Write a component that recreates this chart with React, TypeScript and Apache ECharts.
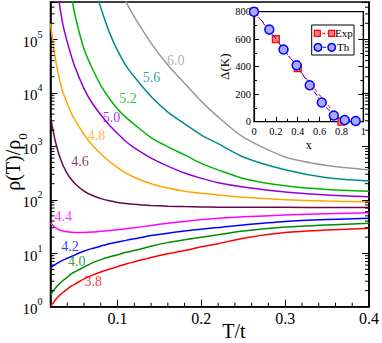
import { useEffect, useRef } from "react";
import * as echarts from "echarts";

const FONT = "Liberation Serif, Times New Roman, serif";

// temperature grid (T/t)
const T = [0.02, 0.025, 0.03, 0.035, 0.04, 0.045, 0.05, 0.06, 0.07, 0.08, 0.09, 0.1, 0.11, 0.12, 0.14, 0.16, 0.18, 0.2, 0.22, 0.25, 0.3, 0.35, 0.4];

// rho(T)/rho0 for each curve
const rho38 = [1.0, 1.29, 1.58, 1.86, 2.14, 2.44, 2.69, 3.31, 3.89, 4.47, 5.01, 5.62, 6.31, 6.92, 8.32, 9.77, 11.2, 13.2, 15.1, 19.1, 24.3, 27.2, 29.2];
const rho40 = [1.66, 2.14, 2.63, 3.09, 3.55, 4.17, 4.57, 5.5, 6.61, 7.59, 8.51, 9.33, 10.4, 11.2, 13.5, 15.8, 17.8, 20.0, 22.1, 26.0, 30.9, 33.9, 36.2];
const rho42 = [5.31, 6.03, 6.76, 7.41, 8.04, 8.71, 9.44, 11.0, 12.3, 13.6, 15.0, 16.2, 17.4, 18.6, 21.4, 23.7, 26.0, 28.2, 30.2, 33.9, 39.4, 42.7, 44.9];
const rho44 = [37.2, 30.9, 27.5, 26.0, 25.1, 24.7, 24.5, 24.5, 24.9, 25.7, 26.6, 27.5, 28.8, 29.9, 33.1, 36.3, 39.4, 42.7, 44.9, 47.9, 51.9, 55.0, 57.1];
const rho46 = [3550, 1410, 708, 437, 309, 240, 195, 145, 120, 105, 95.5, 89.1, 85.1, 82.2, 78.5, 75.9, 74.5, 73.5, 72.8, 72.4, 72.1, 71.8, 71.6];
const rho48 = [200000, 51300, 20000, 10000, 6310, 4070, 2950, 1660, 1050, 724, 525, 398, 316, 263, 200, 166, 145, 132, 123, 111, 100, 94.4, 91.8];
const rho50 = [null, 2000000, 537000, 182000, 89100, 47900, 28200, 12000, 6310, 3890, 2510, 1740, 1230, 933, 603, 427, 316, 251, 209, 174, 140, 123, 114];
const rho52 = [null, null, null, null, 1580000, 631000, 251000, 66100, 28200, 13800, 7940, 5010, 3470, 2570, 1450, 977, 692, 479, 363, 251, 182, 155, 144];
const rho56 = [null, null, null, null, null, null, null, null, 1260000, 389000, 138000, 61700, 32400, 20000, 8510, 4370, 2630, 1620, 1120, 631, 363, 257, 224];
const rho60 = [null, null, null, null, null, null, null, null, null, null, null, 1000000, 501000, 263000, 85100, 33100, 15100, 6920, 3550, 1480, 631, 437, 363];

const curveNames = ["3.8", "4.0", "4.2", "4.4", "4.6", "4.8", "5.0", "5.2", "5.6", "6.0"];
const curveColors = ["#ff0000", "#008b00", "#0000ff", "#ff00ff", "#670748", "#ffa500", "#9400d3", "#00b400", "#008b8b", "#999999"];
const curveValues = [rho38, rho40, rho42, rho44, rho46, rho48, rho50, rho52, rho56, rho60];

// curve label anchors (data coordinates)
const labelT = [0.0709, 0.0512, 0.0432, 0.0352, 0.0551, 0.075, 0.0928, 0.1126, 0.1405, 0.1694];
const labelRho = [2.93, 6.92, 13.2, 47.9, 525, 1620, 3470, 7850, 19500, 40700];

// inset: gap Delta(K) vs x
const expX = [0, 0.2, 0.4, 0.8];
const expGap = [800, 600, 390, 0];
const thX = [0, 0.14, 0.27, 0.39, 0.51, 0.62, 0.73, 0.83, 0.93];
const thGap = [800, 670, 525, 410, 265, 140, 45, 12, 5];

// axis settings
const X_MIN = 0.02;
const X_MAX = 0.4;
const Y_MIN = 1;
const Y_MAX = 500000;
const xMinorTicks = [0.04, 0.06, 0.08, 0.12, 0.14, 0.16, 0.18, 0.22, 0.24, 0.26, 0.28, 0.32, 0.34, 0.36, 0.38];

export default function App() {
  const ref = useRef<HTMLDivElement>(null);

  useEffect(() => {
    if (!ref.current) return;
    const chart = echarts.init(ref.current, undefined, { renderer: "svg" });

    const yMinor: number[] = [];
    for (let k = 0; k <= 5; k++) {
      for (let m = 2; m <= 9; m++) {
        const v = m * Math.pow(10, k);
        if (v < Y_MAX) yMinor.push(v);
      }
    }
    const tickData: number[][] = [
      ...yMinor.map((v) => [X_MIN, v, 0]),
      ...xMinorTicks.map((x) => [x, Y_MIN, 1]),
    ];

    const lineSeries = curveValues.map((vals, i) => ({
      type: "line",
      name: curveNames[i],
      xAxisIndex: 0,
      yAxisIndex: 0,
      data: T.map((t, j) => [t, vals[j]]).filter((p) => p[1] !== null),
      symbol: "none",
      smooth: 0.25,
      clip: true,
      lineStyle: { color: curveColors[i], width: 1.5 },
      z: 3,
    }));

    const axisText = { fontFamily: FONT, color: "#000" };
    const thFill = "#aaaaff";
    const expFill = "#ff8080";

    const option: any = {
      animation: false,
      backgroundColor: "#fff",
      grid: [
        { left: 50.5, top: 2, right: 12, bottom: 36.3, show: true, borderColor: "#000", borderWidth: 1.5, backgroundColor: "transparent" },
        { left: 254, top: 11.7, width: 109.3, height: 110, show: true, borderColor: "#000", borderWidth: 1.2, backgroundColor: "#fff" },
      ],
      xAxis: [
        {
          type: "value", gridIndex: 0, min: X_MIN, max: X_MAX, splitNumber: 4,
          axisLine: { show: true, lineStyle: { color: "#000", width: 1.5 } },
          axisTick: { show: true, inside: true, length: 7, lineStyle: { color: "#000", width: 1 } },
          splitLine: { show: false },
          axisLabel: {
            ...axisText, fontSize: 16, margin: 4,
            formatter: (v: number) => (v > 0.05 && Math.abs(v * 10 - Math.round(v * 10)) < 1e-6 ? v.toFixed(1) : ""),
          },
        },
        {
          type: "value", gridIndex: 1, min: 0, max: 1, interval: 0.2,
          axisLine: { show: true, lineStyle: { color: "#000", width: 1.2 } },
          axisTick: { show: true, inside: true, length: 5, lineStyle: { color: "#000" } },
          minorTick: { show: true, splitNumber: 2, length: 3, lineStyle: { color: "#000" } },
          splitLine: { show: false },
          axisLabel: { ...axisText, fontSize: 10.5, margin: 4 },
          name: "x", nameLocation: "middle", nameGap: 17,
          nameTextStyle: { ...axisText, fontSize: 12 },
        },
      ],
      yAxis: [
        {
          type: "log", gridIndex: 0, min: Y_MIN, max: Y_MAX, logBase: 10,
          axisLine: { show: true, lineStyle: { color: "#000", width: 1.5 } },
          axisTick: { show: true, inside: true, length: 7, lineStyle: { color: "#000", width: 1 } },
          splitLine: { show: false },
          axisLabel: {
            margin: 8,
            formatter: (v: number) => {
              const e = Math.log10(v);
              if (Math.abs(e - Math.round(e)) > 1e-6) return "";
              return `{b|10}{e|${Math.round(e)}}`;
            },
            rich: {
              b: { ...axisText, fontSize: 15, lineHeight: 20, verticalAlign: "bottom" },
              e: { ...axisText, fontSize: 10, lineHeight: 10, verticalAlign: "top" },
            },
          },
        },
        {
          type: "log", gridIndex: 0, position: "right", min: Y_MIN, max: Y_MAX, logBase: 10,
          axisLine: { show: true, lineStyle: { color: "#000", width: 1.5 } },
          axisTick: { show: true, inside: true, length: 7, lineStyle: { color: "#000", width: 1 } },
          splitLine: { show: false },
          axisLabel: { show: false },
        },
        {
          type: "value", gridIndex: 1, min: 0, max: 800, interval: 200,
          axisLine: { show: true, lineStyle: { color: "#000", width: 1.2 } },
          axisTick: { show: true, inside: true, length: 5, lineStyle: { color: "#000" } },
          minorTick: { show: true, splitNumber: 2, length: 3, lineStyle: { color: "#000" } },
          splitLine: { show: false },
          axisLabel: { ...axisText, fontSize: 10.5, margin: 3 },
          name: "Δ(K)", nameLocation: "middle", nameGap: 22,
          nameTextStyle: { ...axisText, fontSize: 13 },
        },
        {
          type: "value", gridIndex: 1, position: "right", min: 0, max: 800, interval: 200,
          axisLine: { show: true, lineStyle: { color: "#000", width: 1.2 } },
          axisTick: { show: true, inside: true, length: 5, lineStyle: { color: "#000" } },
          minorTick: { show: true, splitNumber: 2, length: 3, lineStyle: { color: "#000" } },
          splitLine: { show: false },
          axisLabel: { show: false },
        },
      ],
      series: [
        ...lineSeries,
        {
          type: "custom",
          name: "minorTicks",
          xAxisIndex: 0,
          yAxisIndex: 0,
          silent: true,
          clip: false,
          z: 4,
          data: tickData,
          renderItem: (_params: any, api: any) => {
            const kind = api.value(2);
            const st = { stroke: "#000", lineWidth: 1 };
            if (kind === 0) {
              const p = api.coord([X_MIN, api.value(1)]);
              const q = api.coord([X_MAX, api.value(1)]);
              return {
                type: "group",
                children: [
                  { type: "line", shape: { x1: p[0], y1: p[1], x2: p[0] + 4, y2: p[1] }, style: st },
                  { type: "line", shape: { x1: q[0], y1: q[1], x2: q[0] - 4, y2: q[1] }, style: st },
                ],
              };
            }
            const p = api.coord([api.value(0), Y_MIN]);
            return { type: "line", shape: { x1: p[0], y1: p[1], x2: p[0], y2: p[1] - 4 }, style: st };
          },
        },
        {
          type: "scatter",
          name: "labels",
          xAxisIndex: 0,
          yAxisIndex: 0,
          symbolSize: 0,
          silent: true,
          z: 5,
          data: labelT.map((t, i) => ({
            value: [t, labelRho[i]],
            name: curveNames[i],
            label: { color: curveColors[i] },
          })),
          label: { show: true, position: "inside", formatter: "{b}", fontFamily: FONT, fontSize: 14 },
        },
        {
          type: "line",
          name: "Exp",
          xAxisIndex: 1,
          yAxisIndex: 2,
          data: expX.map((x, i) => [x, expGap[i]]),
          symbol: "rect",
          symbolSize: 7,
          itemStyle: { color: expFill, borderColor: "#ff0000", borderWidth: 1.2 },
          lineStyle: { color: "#ff0000", width: 1, type: [4, 3] },
          z: 6,
        },
        {
          type: "line",
          name: "Th",
          xAxisIndex: 1,
          yAxisIndex: 2,
          data: thX.map((x, i) => [x, thGap[i]]),
          symbol: "circle",
          symbolSize: 9,
          itemStyle: { color: thFill, borderColor: "#0000ff", borderWidth: 1.5 },
          lineStyle: { color: "#0000ff", width: 1, type: [5, 2, 1, 2] },
          z: 7,
        },
      ],
      graphic: [
        {
          type: "text",
          x: 16,
          y: 162,
          rotation: Math.PI / 2,
          z: 50,
          style: {
            text: "{a|ρ(T)/ρ}{s|0}",
            align: "center",
            verticalAlign: "middle",
            rich: {
              a: { fontFamily: FONT, fontSize: 20, lineHeight: 26, verticalAlign: "top", fill: "#000" },
              s: { fontFamily: FONT, fontSize: 13, lineHeight: 13, verticalAlign: "bottom", fill: "#000" },
            },
          },
        },
        {
          type: "text",
          x: 234,
          y: 331,
          z: 50,
          style: { text: "T/t", fontFamily: FONT, fontSize: 20, fill: "#000", align: "center", verticalAlign: "middle" },
        },
        {
          type: "group",
          z: 60,
          children: [
            { type: "rect", shape: { x: 311.7, y: 25, width: 42.3, height: 30 }, style: { fill: "#fff", stroke: "#000", lineWidth: 1 } },
            { type: "line", shape: { x1: 317.3, y1: 33.3, x2: 331.7, y2: 33.3 }, style: { stroke: "#ff0000", lineWidth: 1, lineDash: [3, 2] } },
            { type: "rect", shape: { x: 314.3, y: 30.3, width: 6, height: 6 }, style: { fill: expFill, stroke: "#ff0000", lineWidth: 1.2 } },
            { type: "rect", shape: { x: 328.7, y: 30.3, width: 6, height: 6 }, style: { fill: expFill, stroke: "#ff0000", lineWidth: 1.2 } },
            { type: "text", x: 335, y: 33.3, style: { text: "Exp", fontFamily: FONT, fontSize: 11, fill: "#000", verticalAlign: "middle" } },
            { type: "line", shape: { x1: 318, y1: 47.3, x2: 331.7, y2: 47.3 }, style: { stroke: "#0000ff", lineWidth: 1, lineDash: [3, 2] } },
            { type: "circle", shape: { cx: 318, cy: 47.3, r: 3.8 }, style: { fill: thFill, stroke: "#0000ff", lineWidth: 1.5 } },
            { type: "circle", shape: { cx: 331.7, cy: 47.3, r: 3.8 }, style: { fill: thFill, stroke: "#0000ff", lineWidth: 1.5 } },
            { type: "text", x: 337, y: 47.3, style: { text: "Th", fontFamily: FONT, fontSize: 11, fill: "#000", verticalAlign: "middle" } },
          ],
        },
      ],
    };

    chart.setOption(option);
    return () => chart.dispose();
  }, []);

  return (
    <div
      ref={ref}
      style={{ position: "absolute", left: 0, top: 0, width: 382, height: 343, background: "#fff" }}
    />
  );
}
